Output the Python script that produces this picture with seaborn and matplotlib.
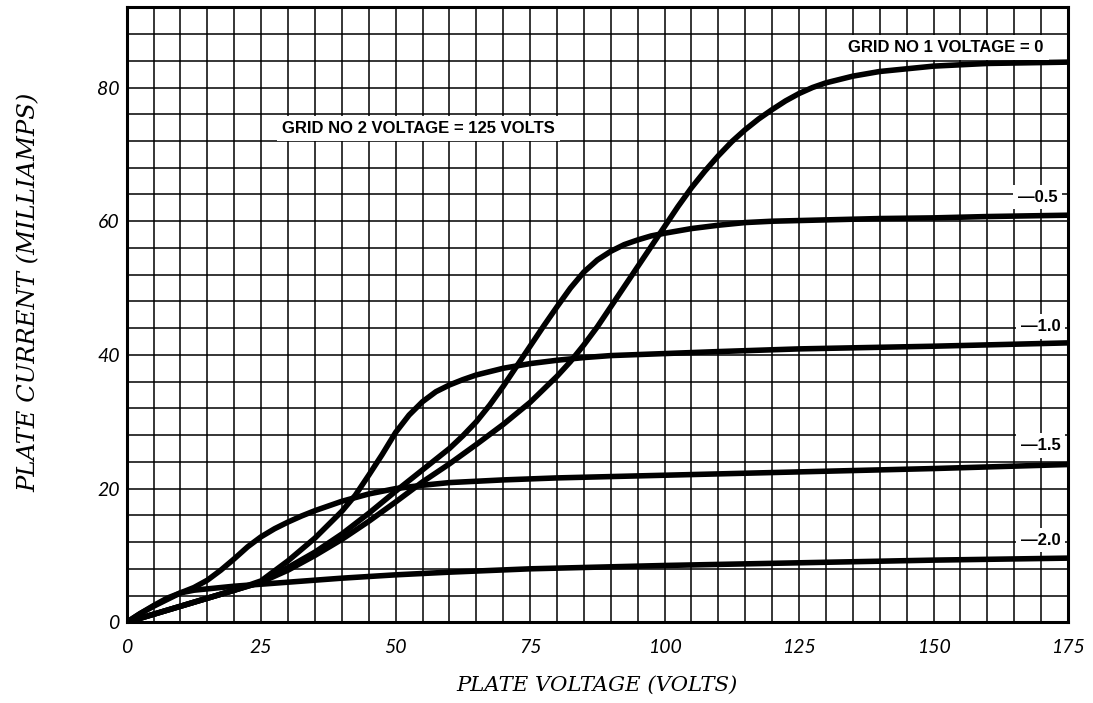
import numpy as np
import pandas as pd
import matplotlib
matplotlib.use("Agg")
import matplotlib.pyplot as plt
from matplotlib.ticker import MultipleLocator
import seaborn as sns

# ---- data (plate voltage V, plate current mA) ----
v_0 = [0, 5, 10, 15, 20, 25, 30, 35, 40, 45, 50, 55, 60, 65, 70, 75, 80, 82.5, 85,
       87.5, 90, 92.5, 95, 97.5, 100, 102.5, 105, 107.5, 110, 112.5, 115, 117.5,
       120, 122.5, 125, 127.5, 130, 135, 140, 150, 160, 175]
i_0 = [0, 1.2, 2.4, 3.6, 4.8, 6.0, 7.8, 10.0, 12.4, 15.1, 18.0, 21.0, 23.7, 26.6,
       29.6, 32.9, 36.8, 39.0, 41.5, 44.2, 47.2, 50.2, 53.2, 56.2, 59.2, 62.2,
       65.0, 67.5, 69.8, 71.9, 73.7, 75.3, 76.7, 78.0, 79.1, 80.0, 80.7, 81.7,
       82.4, 83.2, 83.6, 83.8]

v_05 = [0, 5, 10, 15, 20, 25, 30, 35, 40, 45, 50, 55, 60, 62.5, 65, 67.5, 70, 72.5,
        75, 77.5, 80, 82.5, 85, 87.5, 90, 92.5, 95, 97.5, 100, 105, 110, 115, 120,
        130, 140, 150, 160, 175]
i_05 = [0, 1.2, 2.4, 3.6, 4.8, 6.0, 8.2, 10.5, 13.2, 16.3, 19.6, 22.8, 26.0, 27.9,
        30.0, 32.5, 35.3, 38.3, 41.3, 44.3, 47.2, 50.0, 52.4, 54.2, 55.5, 56.5,
        57.2, 57.8, 58.2, 58.9, 59.4, 59.8, 60.0, 60.2, 60.4, 60.5, 60.7, 60.9]

v_10 = [0, 5, 10, 15, 20, 25, 30, 35, 40, 42.5, 45, 47.5, 50, 52.5, 55, 57.5, 60,
        62.5, 65, 70, 75, 80, 85, 90, 100, 110, 125, 150, 175]
i_10 = [0, 1.2, 2.4, 3.6, 4.8, 6.2, 9.2, 12.6, 16.6, 19.0, 22.0, 25.1, 28.4, 31.0,
        33.0, 34.5, 35.5, 36.3, 37.0, 38.0, 38.7, 39.2, 39.6, 39.9, 40.2, 40.5,
        40.9, 41.3, 41.8]

v_15 = [0, 2.5, 5, 7.5, 10, 12.5, 15, 17.5, 20, 22.5, 25, 27.5, 30, 32.5, 35, 40,
        45, 50, 55, 60, 70, 80, 90, 100, 125, 150, 175]
i_15 = [0, 1.3, 2.4, 3.4, 4.4, 5.2, 6.3, 7.8, 9.5, 11.3, 12.8, 14.0, 15.0, 15.9,
        16.7, 18.1, 19.2, 20.0, 20.5, 20.9, 21.3, 21.6, 21.8, 22.0, 22.5, 23.0,
        23.6]

v_20 = [0, 2.5, 5, 7.5, 10, 12.5, 15, 20, 25, 30, 40, 50, 60, 75, 100, 125, 150, 175]
i_20 = [0, 1.3, 2.5, 3.6, 4.4, 4.8, 5.0, 5.4, 5.7, 6.0, 6.6, 7.1, 7.5, 8.0, 8.5,
        8.9, 9.3, 9.6]

curve_names = ["0", "-0.5", "-1.0", "-1.5", "-2.0"]
x_ticks = [0, 25, 50, 75, 100, 125, 150, 175]
y_ticks = [0, 20, 40, 60, 80]

frames = []
for name, vx, iy in zip(curve_names, [v_0, v_05, v_10, v_15, v_20],
                        [i_0, i_05, i_10, i_15, i_20]):
    frames.append(pd.DataFrame({"volts": vx, "ma": iy, "grid1": name}))
df = pd.concat(frames, ignore_index=True)

# ---- figure ----
sns.set_style("white")
plt.rcParams["font.family"] = ["DejaVu Sans"]

fig = plt.figure(figsize=(10.93, 7.03), dpi=100)
ax = fig.add_axes([0.1159, 0.1148, 0.8612, 0.8748])

ax.set_xlim(0, 175)
ax.set_ylim(0, 92)
ax.xaxis.set_major_locator(MultipleLocator(25))
ax.xaxis.set_minor_locator(MultipleLocator(5))
ax.yaxis.set_major_locator(MultipleLocator(20))
ax.yaxis.set_minor_locator(MultipleLocator(4))
ax.grid(which="both", color="black", linewidth=1.1)
ax.set_axisbelow(True)

sns.lineplot(data=df, x="volts", y="ma", hue="grid1", units="grid1",
             estimator=None, sort=False, palette=["black"] * 5, legend=False,
             linewidth=4.0, ax=ax, zorder=3)
for ln in ax.lines:
    ln.set_solid_capstyle("round")
    ln.set_solid_joinstyle("round")

for sp in ax.spines.values():
    sp.set_visible(True)
    sp.set_color("black")
    sp.set_linewidth(2.2)

ax.set_xticks(x_ticks)
ax.set_yticks(y_ticks)
ax.set_xticklabels([str(t) for t in x_ticks])
ax.set_yticklabels([str(t) for t in y_ticks])
ax.tick_params(which="both", length=0)
ax.tick_params(axis="x", pad=12)
ax.tick_params(axis="y", pad=5)
for lab in ax.get_xticklabels() + ax.get_yticklabels():
    lab.set_fontfamily("Lato")
    lab.set_fontstyle("italic")
    lab.set_fontsize(14)
    lab.set_color("black")

ax.set_xlabel("PLATE VOLTAGE (VOLTS)", fontfamily="DejaVu Serif",
              fontstyle="italic", fontsize=15.3, color="black")
ax.set_ylabel("PLATE CURRENT (MILLIAMPS)", fontfamily="DejaVu Serif",
              fontstyle="italic", fontsize=17.5, color="black")
ax.xaxis.label.set_va("center")
ax.yaxis.label.set_va("center")
ax.xaxis.set_label_coords(0.5, -0.102)
ax.yaxis.set_label_coords(-0.104, 0.537)

box = dict(facecolor="white", edgecolor="none", pad=3.5)
txt = dict(fontfamily="Liberation Sans", fontweight="bold", fontsize=12,
           color="black", va="center", zorder=4, bbox=box)
ax.text(28.9, 73.9, "GRID NO 2 VOLTAGE = 125 VOLTS", ha="left", **txt)
ax.text(170.5, 86.0, "GRID NO 1 VOLTAGE = 0", ha="right", **txt)
ax.text(173.0, 63.6, "\u20140.5", ha="right", **txt)
ax.text(173.6, 44.3, "\u20141.0", ha="right", **txt)
ax.text(173.6, 26.4, "\u20141.5", ha="right", **txt)
ax.text(173.6, 12.3, "\u20142.0", ha="right", **txt)

fig.savefig("out.png", dpi=100)
